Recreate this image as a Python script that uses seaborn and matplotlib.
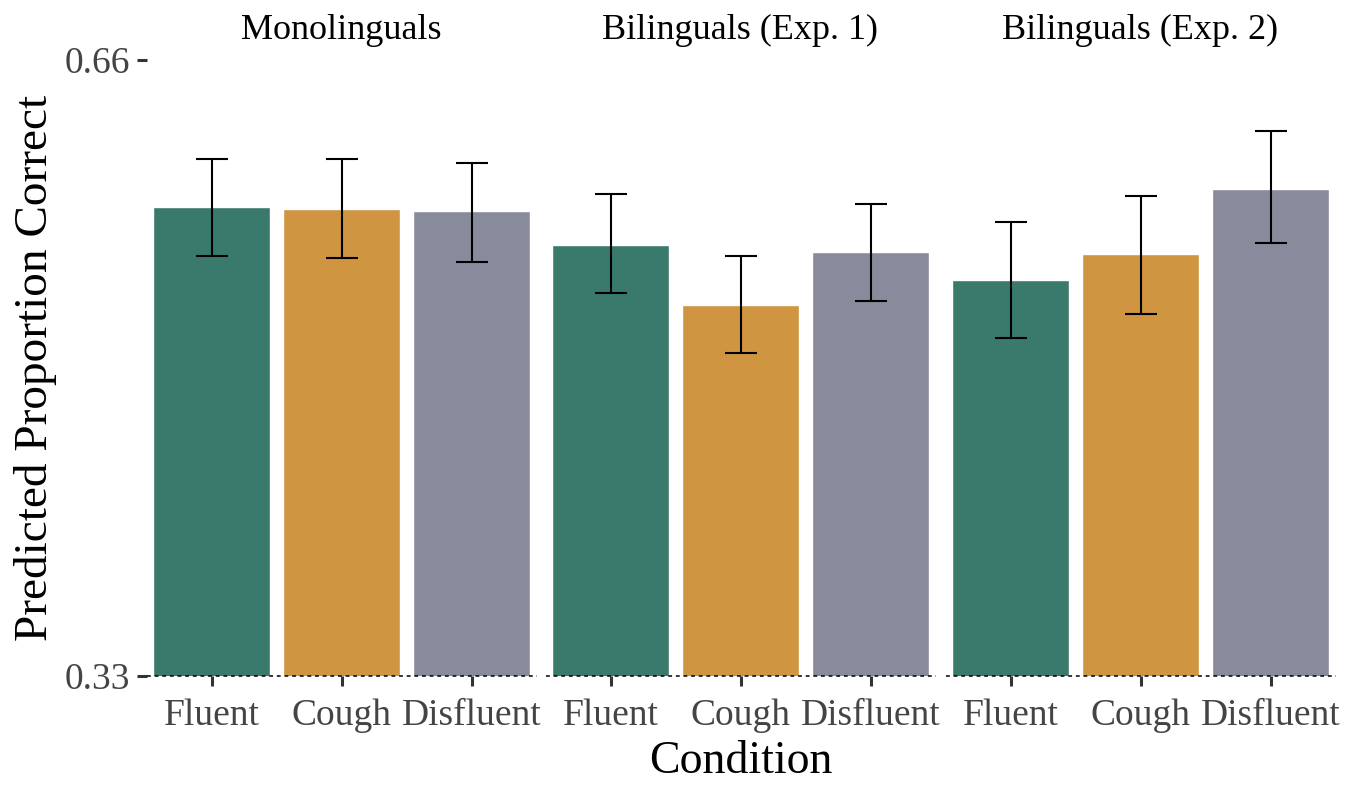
import numpy as np
import pandas as pd
import seaborn as sns
import matplotlib.pyplot as plt

# values
groups = ['Monolinguals', 'Bilinguals (Exp. 1)', 'Bilinguals (Exp. 2)']
conditions = ['Fluent', 'Cough', 'Disfluent']
estimate = [[0.581, 0.580, 0.579],
            [0.561, 0.529, 0.557],
            [0.542, 0.556, 0.591]]
lower = [[0.555, 0.554, 0.552],
         [0.535, 0.503, 0.531],
         [0.511, 0.524, 0.562]]
upper = [[0.607, 0.607, 0.605],
         [0.588, 0.555, 0.583],
         [0.573, 0.587, 0.622]]
colors = {'Fluent': '#3a7a6d', 'Cough': '#cf9540', 'Disfluent': '#878b9b'}

rows = []
for g, est, lo, up in zip(groups, estimate, lower, upper):
    for c, e, l, u in zip(conditions, est, lo, up):
        rows.append({'Group': g, 'Condition': c, 'Estimate': e, 'Lower': l, 'Upper': u})
df = pd.DataFrame(rows)

sns.set_style("white")
plt.rcParams['font.family'] = ['Liberation Serif', 'DejaVu Serif']

W, H = 1359, 788
fig = plt.figure(figsize=(W / 100, H / 100), dpi=100)

panel_w = 390
lefts = [146.5, 545.5, 945.5]
top_px, bot_px = 60, 676

for i, g in enumerate(groups):
    ax = fig.add_axes([lefts[i] / W, 1 - bot_px / H, panel_w / W, (bot_px - top_px) / H])
    sub = df[df['Group'] == g]
    sns.barplot(data=sub, x='Condition', y='Estimate', hue='Condition',
                palette=colors, width=0.9, errorbar=None, legend=False,
                saturation=1, ax=ax)
    x = np.arange(len(sub))
    ax.errorbar(x, sub['Estimate'],
                yerr=[sub['Estimate'] - sub['Lower'], sub['Upper'] - sub['Estimate']],
                fmt='none', ecolor='black', elinewidth=1.5, capsize=11.5, capthick=1.5)
    ax.axhline(0.33, ls=(0, (2.5, 2.5)), color='black', lw=1.1, zorder=5, clip_on=False)
    ax.set_ylim(0.33, 0.66)
    ax.set_xlim(-0.5, 2.5)
    for s in ax.spines.values():
        s.set_visible(False)
    ax.set_xlabel('')
    ax.set_ylabel('')
    ax.tick_params(axis='x', length=7, width=2.2, color='#333333',
                   labelsize=27, labelcolor='#444444', pad=9, bottom=True)
    if i == 0:
        ax.set_yticks([0.33, 0.66])
        ax.set_yticklabels(['0.33', '0.66'])
        ax.tick_params(axis='y', length=7, width=2.2, color='#333333',
                       labelsize=27, labelcolor='#444444', pad=5, left=True)
    else:
        ax.set_yticks([])
    ax.text(0.5, 1.048, g, transform=ax.transAxes, ha='center', va='center',
            fontsize=26, color='black')

fig.text(741 / W, 1 - 762 / H, 'Condition', ha='center', va='center',
         fontsize=33, color='black')
fig.text(36 / W, 1 - 368 / H, 'Predicted Proportion Correct', ha='center', va='center',
         rotation=90, fontsize=34, color='black')

fig.savefig('out.png', dpi=100)
